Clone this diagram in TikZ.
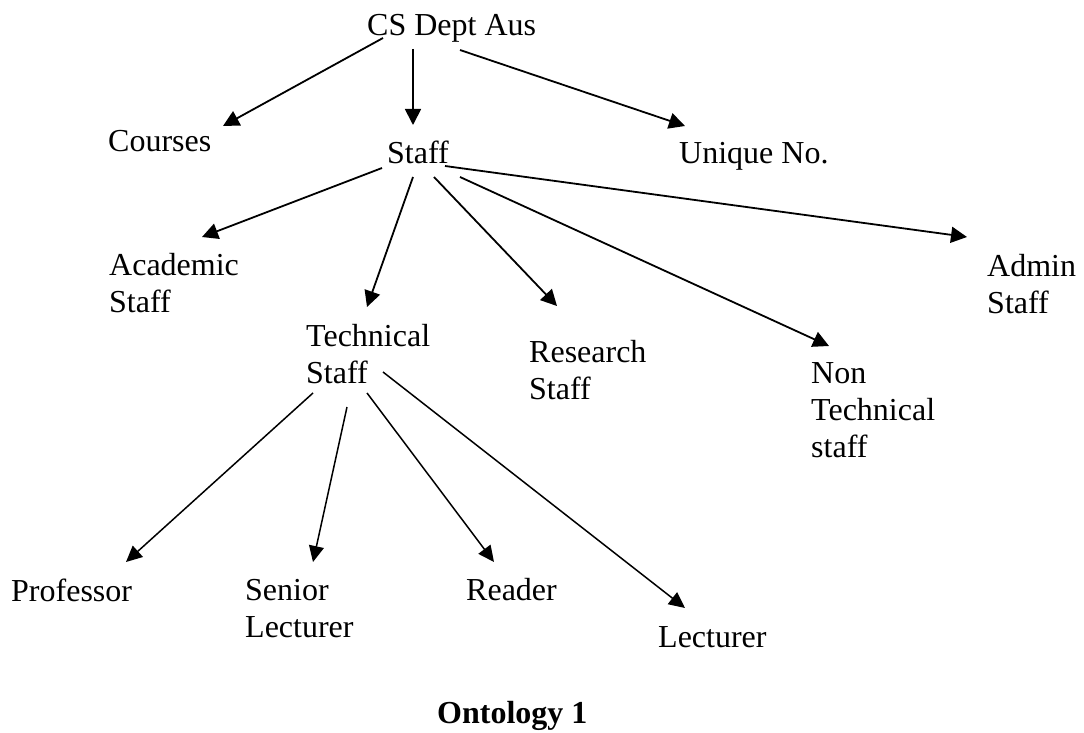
\documentclass[tikz,border=0pt]{standalone}
\usepackage{fontspec}
\setmainfont{Liberation Serif}
\usetikzlibrary{arrows.meta}

% stacked label lines, baseline on the first line
\newcommand{\stacklines}[1]{\begin{tabular}[t]{@{}l@{}}#1\end{tabular}}

\tikzset{
  label/.style={anchor=base west, inner sep=0pt, font=\fontsize{32}{37}\selectfont},
  link/.style={-{Triangle[length=16pt,width=16pt]}, line width=1.8pt},
  sublink/.style={-{Triangle[length=16pt,width=15pt]}, line width=1.5pt}
}

\begin{document}
\begin{tikzpicture}[x=1pt,y=-1pt]
\useasboundingbox (0,0) rectangle (1084,733);

% concepts
\node[label] (cs)        at (367,36)  {CS Dept Aus};
\node[label] (courses)   at (108,152) {Courses};
\node[label] (staff)     at (387,164) {Staff};
\node[label] (unique)    at (679,164) {Unique No.};
\node[label] (academic)  at (109,275) {\stacklines{Academic\\Staff}};
\node[label] (technical) at (306,346) {\stacklines{Technical\\Staff}};
\node[label] (research)  at (529,362) {\stacklines{Research\\Staff}};
\node[label] (nontech)   at (811,383) {\stacklines{Non\\Technical\\staff}};
\node[label] (admin)     at (987,276) {\stacklines{Admin\\Staff}};
\node[label] (professor) at (11,601)  {Professor};
\node[label] (senior)    at (245,600) {\stacklines{Senior\\Lecturer}};
\node[label] (reader)    at (466,600) {Reader};
\node[label] (lecturer)  at (658,647) {Lecturer};
\node[label, font=\fontsize{32}{37}\selectfont\bfseries] (caption) at (437,723) {Ontology 1};

% relations from the department
\draw[link] ([shift={(16,2)}]cs.base west)  -- ([shift={(115,-26)}]courses.base west);
\draw[link] ([shift={(46,13)}]cs.base west) -- ([shift={(26,-39)}]staff.base west);
\draw[link] ([shift={(93,14)}]cs.base west) -- ([shift={(6,-38)}]unique.base west);

% kinds of staff
\draw[link] ([shift={(-5,4)}]staff.base west)  -- ([shift={(93,-38)}]academic.base west);
\draw[link] ([shift={(26,13)}]staff.base west) -- ([shift={(61,-39)}]technical.base west);
\draw[link] ([shift={(47,13)}]staff.base west) -- ([shift={(28,-56)}]research.base west);
\draw[link] ([shift={(73,13)}]staff.base west) -- ([shift={(18,-37)}]nontech.base west);
\draw[link] ([shift={(58,2)}]staff.base west)  -- ([shift={(-20,-39)}]admin.base west);

% positions under technical staff
\draw[sublink] ([shift={(7,47)}]technical.base west)  -- ([shift={(115,-39)}]professor.base west);
\draw[sublink] ([shift={(41,61)}]technical.base west) -- ([shift={(68,-38)}]senior.base west);
\draw[sublink] ([shift={(61,47)}]technical.base west) -- ([shift={(28,-38)}]reader.base west);
\draw[sublink] ([shift={(77,26)}]technical.base west) -- ([shift={(27,-39)}]lecturer.base west);
\end{tikzpicture}
\end{document}
